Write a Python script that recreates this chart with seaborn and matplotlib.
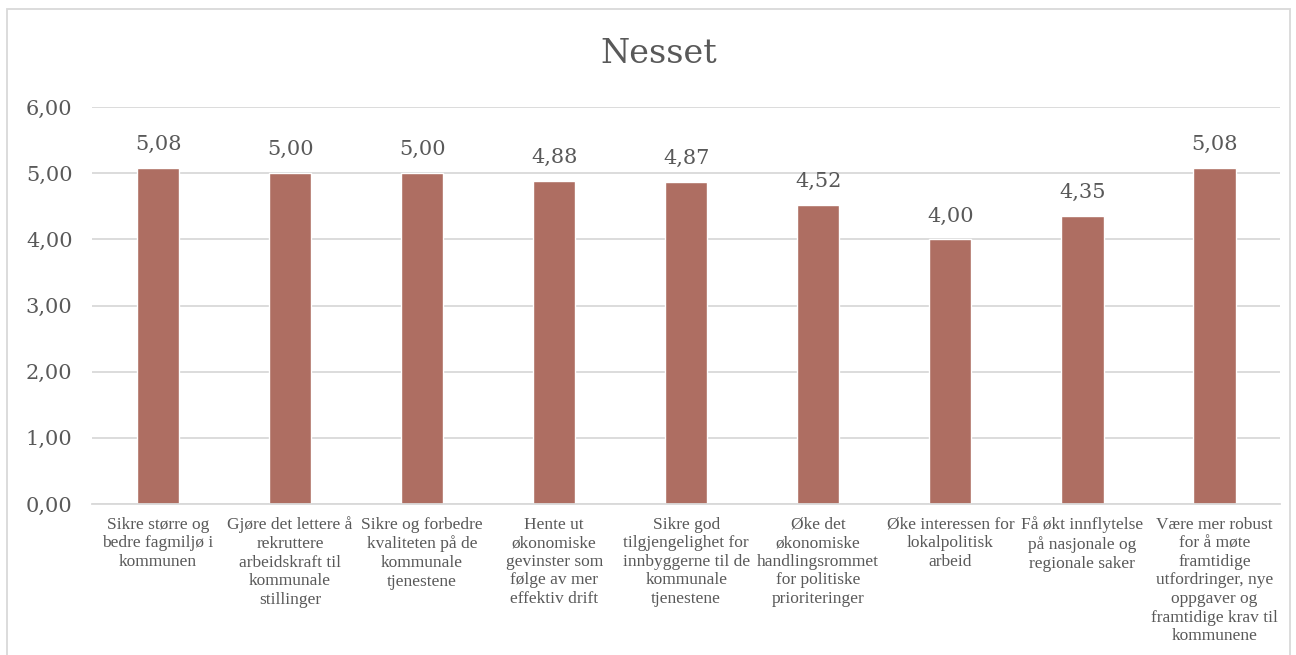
import matplotlib
matplotlib.use("Agg")
import matplotlib.pyplot as plt
import seaborn as sns
import pandas as pd
from matplotlib.patches import Rectangle
from matplotlib.ticker import FuncFormatter

# data
categories = [
    "Sikre større og\nbedre fagmiljø i\nkommunen",
    "Gjøre det lettere å\nrekruttere\narbeidskraft til\nkommunale\nstillinger",
    "Sikre og forbedre\nkvaliteten på de\nkommunale\ntjenestene",
    "Hente ut\nøkonomiske\ngevinster som\nfølge av mer\neffektiv drift",
    "Sikre god\ntilgjengelighet for\ninnbyggerne til de\nkommunale\ntjenestene",
    "Øke det\nøkonomiske\nhandlingsrommet\nfor politiske\nprioriteringer",
    "Øke interessen for\nlokalpolitisk\narbeid",
    "Få økt innflytelse\npå nasjonale og\nregionale saker",
    "Være mer robust\nfor å møte\nframtidige\nutfordringer, nye\noppgaver og\nframtidige krav til\nkommunene",
]
values = [5.08, 5.00, 5.00, 4.88, 4.87, 4.52, 4.00, 4.35, 5.08]
title = "Nesset"

df = pd.DataFrame({"kat": categories, "verdi": values})

sns.set_theme(style="white")
plt.rcParams["font.family"] = ["DejaVu Serif"]
txt = "#595959"
grid = "#D9D9D9"
bar_color = "#AE6E62"

fig = plt.figure(figsize=(12.96, 6.55), dpi=100)
ax = fig.add_axes([0.071, 0.2305, 0.917, 0.6061])

sns.barplot(data=df, x="kat", y="verdi", color=bar_color, width=0.32,
            saturation=1, ax=ax)

ax.set_ylim(0, 6)
ax.set_yticks([0, 1, 2, 3, 4, 5, 6])
ax.yaxis.set_major_formatter(FuncFormatter(lambda v, p: f"{v:.2f}".replace(".", ",")))
ax.grid(axis="y", color=grid, linewidth=1.3)
ax.set_axisbelow(True)
for s in ["top", "right", "left"]:
    ax.spines[s].set_visible(False)
ax.spines["bottom"].set_color(grid)
ax.spines["bottom"].set_linewidth(1.3)
ax.set_xlabel("")
ax.set_ylabel("")
ax.tick_params(axis="y", labelsize=15, colors=txt, length=0, pad=14)
ax.tick_params(axis="x", length=0, pad=9)
for lab in ax.get_xticklabels():
    lab.set_family(["Liberation Serif"])
    lab.set_fontsize(12.5)
    lab.set_color(txt)
    lab.set_verticalalignment("top")
    lab.set_linespacing(1.22)

for c in ax.containers:
    ax.bar_label(c, labels=[f"{v:.2f}".replace(".", ",") for v in values],
                 padding=10, fontsize=15, color=txt)

fig.text(659 / 1296, 0.942, title, ha="center", va="top", fontsize=24, color=txt)

# chart border
fig.patches.append(Rectangle((7 / 1296, -0.05), 1283 / 1296, 1.05 - 9 / 655,
                             transform=fig.transFigure, fill=False,
                             edgecolor=grid, linewidth=1.3))

fig.savefig("out.png", dpi=100)
